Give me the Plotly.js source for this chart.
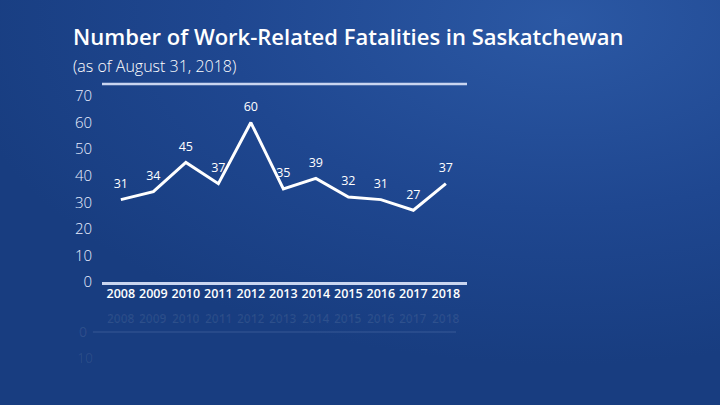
<!DOCTYPE html>
<html>
<head>
<meta charset="utf-8">
<script src="https://cdn.plot.ly/plotly-3.0.1.min.js"></script>
<style>
  html, body { margin: 0; padding: 0; background: #1d4590; }
  #plot { width: 720px; height: 405px; }
</style>
</head>
<body>
<div id="plot"></div>
<script>
const years = [2008, 2009, 2010, 2011, 2012, 2013, 2014, 2015, 2016, 2017, 2018];
const fatalities = [31, 34, 45, 37, 60, 35, 39, 32, 31, 27, 37];
const yTicks = [0, 10, 20, 30, 40, 50, 60, 70];

const font = '"Open Sans", "DejaVu Sans", sans-serif';

// soft background gradient, lighter to the upper right
const bgSvg = `<svg xmlns="http://www.w3.org/2000/svg" width="720" height="405">
<defs>
<radialGradient id="g" cx="0.78" cy="0.05" r="0.85">
<stop offset="0" stop-color="#2b58a4"/>
<stop offset="0.55" stop-color="#1f4790"/>
<stop offset="1" stop-color="#183d80"/>
</radialGradient>
</defs>
<rect width="720" height="405" fill="url(#g)"/>
</svg>`;

const trace = {
  x: years,
  y: fatalities,
  type: 'scatter',
  mode: 'lines+markers+text',
  line: { color: '#ffffff', width: 3 },
  marker: { size: 12, color: 'rgba(0,0,0,0)' },
  text: fatalities.map(String),
  textposition: 'top center',
  textfont: { color: '#ffffff', size: 12.5, family: font },
  cliponaxis: false,
  hoverinfo: 'skip'
};

// faint reflection of the axis labels below the chart
const reflection = years.map(yr => ({
  x: yr, xref: 'x', y: -36 / 198, yref: 'paper', yanchor: 'middle',
  text: String(yr), showarrow: false,
  font: { color: 'rgba(255,255,255,0.09)', size: 12, family: font, weight: 600 }
}));

const layout = {
  width: 720,
  height: 405,
  margin: { l: 102, r: 253, t: 84, b: 123 },
  paper_bgcolor: '#1d4590',
  plot_bgcolor: 'rgba(40,78,160,0.5)',
  showlegend: false,
  images: [{
    source: 'data:image/svg+xml;base64,' + btoa(bgSvg),
    xref: 'paper', yref: 'paper', x: -102 / 365, y: 1 + 84 / 198,
    sizex: 720 / 365, sizey: 405 / 198, sizing: 'stretch',
    xanchor: 'left', yanchor: 'top', layer: 'below'
  }],
  xaxis: {
    range: [2007.42, 2018.65],
    tickvals: years,
    ticktext: years.map(String),
    showgrid: false,
    zeroline: false,
    showline: true,
    linecolor: '#c9d5f0',
    linewidth: 2.5,
    ticks: '',
    ticklabelstandoff: -2,
    tickfont: { color: '#ffffff', size: 12.5, family: font, weight: 600 },
    fixedrange: true
  },
  yaxis: {
    range: [0, 74.5],
    tickvals: yTicks,
    showgrid: false,
    zeroline: false,
    showline: false,
    ticks: '',
    ticklabelstandoff: 9,
    tickfont: { color: '#e8eeff', size: 15, family: font, weight: 300 },
    fixedrange: true
  },
  shapes: [
    { type: 'line', xref: 'paper', yref: 'paper', x0: 0, x1: 1, y0: 1, y1: 1,
      line: { color: '#c9d5f0', width: 2.5 } },
    { type: 'line', xref: 'paper', yref: 'paper', x0: -0.025, x1: 0.97, y0: -50 / 198, y1: -50 / 198,
      line: { color: 'rgba(200,215,245,0.12)', width: 1.5 } }
  ],
  annotations: [
    { text: 'Number of Work-Related Fatalities in Saskatchewan', xref: 'paper', yref: 'paper',
      x: -31 / 365, y: 1 + 48 / 198, xanchor: 'left', yanchor: 'middle', showarrow: false,
      font: { color: '#ffffff', size: 22, family: font, weight: 600 } },
    { text: '(as of August 31, 2018)', xref: 'paper', yref: 'paper',
      x: -31 / 365, y: 1 + 18 / 198, xanchor: 'left', yanchor: 'middle', showarrow: false,
      font: { color: '#ffffff', size: 16, family: font, weight: 300 } },
    { text: '0', xref: 'paper', yref: 'paper', x: -25 / 365, y: -49 / 198, yanchor: 'middle', showarrow: false,
      font: { color: 'rgba(255,255,255,0.10)', size: 14, family: font } },
    { text: '10', xref: 'paper', yref: 'paper', x: -27 / 365, y: -75 / 198, yanchor: 'middle', showarrow: false,
      font: { color: 'rgba(255,255,255,0.08)', size: 14, family: font } }
  ].concat(reflection)
};

Plotly.newPlot('plot', [trace], layout, { displayModeBar: false, staticPlot: true });
</script>
</body>
</html>
